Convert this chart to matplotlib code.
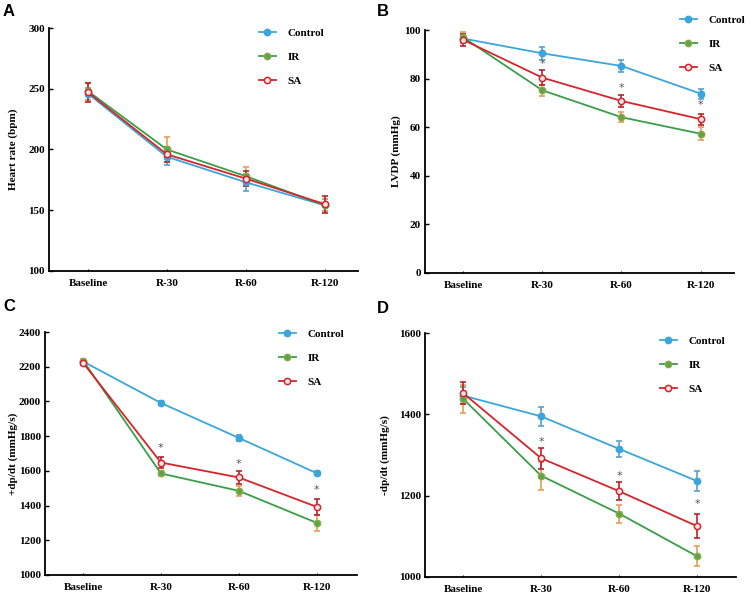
import matplotlib
matplotlib.use("Agg")
import matplotlib.pyplot as plt
import numpy as np

plt.rcParams['font.family'] = ['Liberation Serif', 'DejaVu Serif']

times = ["Baseline", "R-30", "R-60", "R-120"]
groups = ["Control", "IR", "SA"]

# heart rate (bpm)
hr_control = [246, 194, 173, 154]
hr_ir = [248, 200, 178, 154]
hr_sa = [247, 196, 176, 155]
hr_control_err = [5, 7, 7, 5]
hr_ir_err = [7, 10, 8, 5]
hr_sa_err = [8, 6, 6, 7]

# LVDP (mmHg)
lvdp_control = [96.5, 90.4, 85.2, 73.8]
lvdp_ir = [97, 75.2, 64.1, 57.3]
lvdp_sa = [96, 80.4, 70.8, 63.3]
lvdp_control_err = [2, 2.8, 2.6, 2.1]
lvdp_ir_err = [2, 2.2, 2, 2.6]
lvdp_sa_err = [2.4, 3.2, 2.6, 2.3]

# +dp/dt (mmHg/s)
pdp_control = [2230, 1991, 1790, 1587]
pdp_ir = [2235, 1585, 1485, 1301]
pdp_sa = [2222, 1648, 1562, 1393]
pdp_control_err = [10, 12, 16, 12]
pdp_ir_err = [10, 15, 30, 45]
pdp_sa_err = [12, 30, 38, 45]

# -dp/dt (mmHg/s)
ndp_control = [1446, 1395, 1315, 1236]
ndp_ir = [1438, 1249, 1156, 1051]
ndp_sa = [1452, 1292, 1211, 1125]
ndp_control_err = [20, 23, 20, 24]
ndp_ir_err = [35, 35, 22, 25]
ndp_sa_err = [27, 26, 22, 30]

# asterisk heights (SA vs IR)
star_b = [None, 86, 76, 69]
star_c = [None, 1731, 1641, 1489]
star_d = [None, 1333, 1249, 1179]

line_col = {"Control": "#3aa6dc", "IR": "#3a9e48", "SA": "#d4252b"}
err_col = {"Control": "#5b9fcc", "IR": "#e0a05a", "SA": "#b8232a"}
face_col = {"Control": "#3aa6dc", "IR": "#5aa548", "SA": "#fbe6e6"}
edge_col = {"Control": "#3aa6dc", "IR": "#8aa84a", "SA": "#d4252b"}

W, H = 753, 602
fig = plt.figure(figsize=(W / 100, H / 100), dpi=100)


def px_axes(l, t, r, b):
    return fig.add_axes([l / W, 1 - b / H, (r - l) / W, (b - t) / H])


panels = [
    dict(box=(49, 28, 358, 271), xlim=(-0.494, 3.42), ylim=(100, 300), ticks=np.arange(100, 301, 50),
         ylabel="Heart rate (bpm)", letter="A", letter_xy=(3, 16), ylab_x=8,
         data=(hr_control, hr_ir, hr_sa), err=(hr_control_err, hr_ir_err, hr_sa_err), stars=None,
         leg=(253, 23)),
    dict(box=(425, 30, 734, 273), xlim=(-0.48, 3.42), ylim=(0, 100), ticks=np.arange(0, 101, 20),
         ylabel="LVDP (mmHg)", letter="B", letter_xy=(377, 16), ylab_x=391,
         data=(lvdp_control, lvdp_ir, lvdp_sa), err=(lvdp_control_err, lvdp_ir_err, lvdp_sa_err), stars=star_b,
         leg=(674, 10)),
    dict(box=(45, 332, 357, 575), xlim=(-0.49, 3.52), ylim=(1000, 2400), ticks=np.arange(1000, 2401, 200),
         ylabel="+dp/dt (mmHg/s)", letter="C", letter_xy=(3, 311), ylab_x=8,
         data=(pdp_control, pdp_ir, pdp_sa), err=(pdp_control_err, pdp_ir_err, pdp_sa_err), stars=star_c,
         leg=(273, 324)),
    dict(box=(425, 333, 736, 577), xlim=(-0.49, 3.5), ylim=(1000, 1600), ticks=np.arange(1000, 1601, 200),
         ylabel="-dp/dt (mmHg/s)", letter="D", letter_xy=(377, 313), ylab_x=380,
         data=(ndp_control, ndp_ir, ndp_sa), err=(ndp_control_err, ndp_ir_err, ndp_sa_err), stars=star_d,
         leg=(654, 331)),
]

x = np.arange(len(times))

for p in panels:
    ax = px_axes(*p["box"])
    for g, vals, errs in zip(groups, p["data"], p["err"]):
        ax.errorbar(x, vals, yerr=errs, fmt="none", ecolor=err_col[g], elinewidth=1.2,
                    capsize=2.5, capthick=1.2, zorder=2)
        ax.plot(x, vals, color=line_col[g], lw=1.3, marker="o", ms=4.5,
                mfc=face_col[g], mec=edge_col[g], mew=1.1, label=g, zorder=3)
    if p["stars"] is not None:
        for xi, sy in zip(x, p["stars"]):
            if sy is not None:
                ax.text(xi, sy, "*", ha="center", va="center", fontsize=8,
                        color="#555555", family="DejaVu Sans")
    ax.set_xlim(*p["xlim"])
    ax.set_ylim(*p["ylim"])
    ax.set_yticks(p["ticks"])
    ax.set_xticks(x)
    ax.set_xticklabels(times)
    for s in ("top", "right"):
        ax.spines[s].set_visible(False)
    for s in ("left", "bottom"):
        ax.spines[s].set_linewidth(1.3)
    ax.tick_params(axis="y", direction="in", length=3, width=1, labelsize=8, pad=3)
    ax.tick_params(axis="x", direction="in", length=1.5, width=0.8, labelsize=8, pad=6)
    for lab in ax.get_xticklabels() + ax.get_yticklabels():
        lab.set_fontweight("bold")
    # y label in figure pixel position
    l, t, r, b = p["box"]
    fig.text(p["ylab_x"] / W, 1 - (t + b) / 2 / H, p["ylabel"], rotation=90,
             ha="left", va="center", fontsize=8, fontweight="bold")
    fig.text(p["letter_xy"][0] / W, 1 - p["letter_xy"][1] / H, p["letter"],
             family="Liberation Sans", fontsize=12, fontweight="bold", ha="left", va="baseline")
    lx, ly = p["leg"]
    leg = ax.legend(loc="upper left", bbox_to_anchor=(lx / W, 1 - ly / H), bbox_transform=fig.transFigure,
                    frameon=False, borderpad=0, handlelength=1.6, handletextpad=1.0,
                    labelspacing=1.25, prop={"weight": "bold", "size": 8})

fig.savefig("out.png", dpi=100)
